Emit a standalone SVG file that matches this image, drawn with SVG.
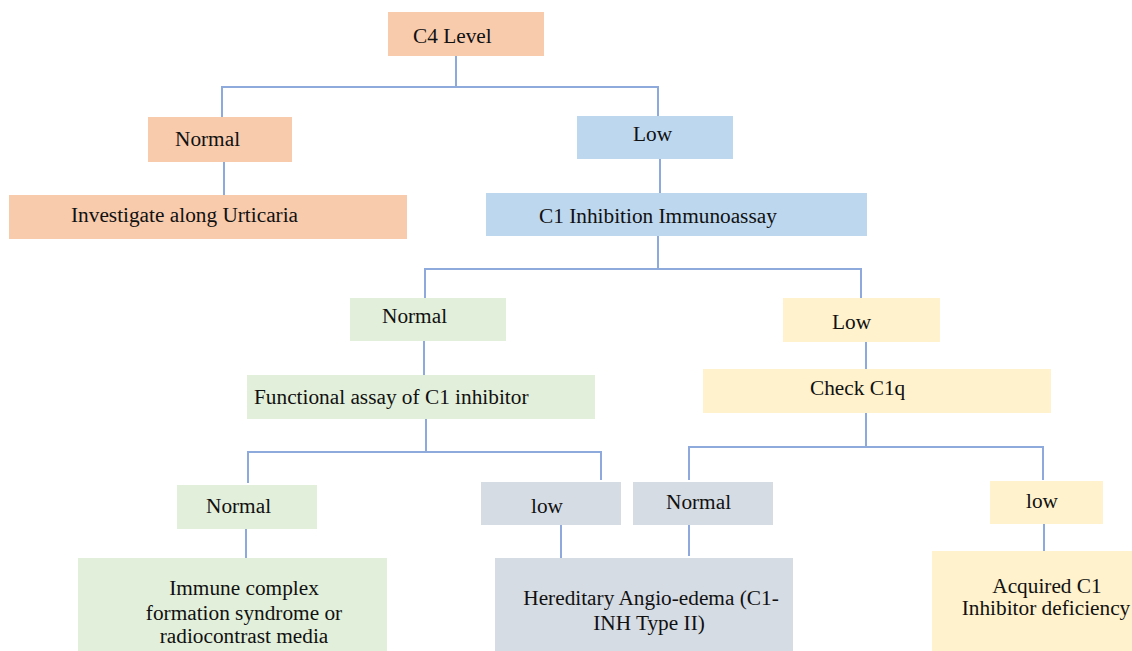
<svg xmlns="http://www.w3.org/2000/svg" width="1132" height="651" viewBox="0 0 1132 651">
<style>
.t{font-family:"Liberation Serif","Times New Roman",serif;font-size:21.3px;fill:#111}
.c{text-anchor:middle}
.o{fill:#F8CBAD}.b{fill:#BDD7EE}.g{fill:#E2EFDA}.y{fill:#FFF2CC}.s{fill:#D6DCE4}
.ln{fill:none;stroke:#8EA9DB;stroke-width:2}
</style>
<rect width="1132" height="651" fill="#fff"/>
<g id="connectors" class="ln">
<path d="M456 56V87M222 117V87H658V116"/>
<path d="M224 162V195"/>
<path d="M660 159V193"/>
<path d="M658 236V269M425 298V269H861V298"/>
<path d="M424 341V375"/>
<path d="M866 342V369"/>
<path d="M426 419V452M248 483V452H601V480"/>
<path d="M866 413V447M689 480V447H1043V480"/>
<path d="M246 529V558"/>
<path d="M561 525V558"/>
<path d="M689 525V556"/>
<path d="M1044 524V551"/>
</g>
<g id="c4"><rect class="o" x="388" y="12" width="156" height="44"/><text class="t" x="413" y="43">C4 Level</text></g>
<g id="normal1"><rect class="o" x="148" y="117" width="144" height="45"/><text class="t" x="175" y="146">Normal</text></g>
<g id="urticaria"><rect class="o" x="9" y="195" width="398" height="44"/><text class="t" x="71" y="222">Investigate along Urticaria</text></g>
<g id="low1"><rect class="b" x="577" y="116" width="156" height="43"/><text class="t" x="633" y="141">Low</text></g>
<g id="immunoassay"><rect class="b" x="486" y="193" width="381" height="43"/><text class="t" x="539" y="223">C1 Inhibition Immunoassay</text></g>
<g id="normal2"><rect class="g" x="350" y="298" width="156" height="43"/><text class="t" x="382" y="323">Normal</text></g>
<g id="functional"><rect class="g" x="247" y="375" width="348" height="44"/><text class="t" x="254" y="404">Functional assay of C1 inhibitor</text></g>
<g id="low2"><rect class="y" x="783" y="298" width="157" height="44"/><text class="t" x="832" y="329">Low</text></g>
<g id="c1q"><rect class="y" x="703" y="369" width="348" height="44"/><text class="t" x="810" y="395">Check C1q</text></g>
<g id="normal3"><rect class="g" x="177" y="485" width="140" height="44"/><text class="t" x="206" y="513">Normal</text></g>
<g id="immune"><rect class="g" x="78" y="558" width="309" height="93"/><text class="t c" x="244" y="595">Immune complex</text><text class="t c" x="244" y="620">formation syndrome or</text><text class="t c" x="244" y="643">radiocontrast media</text></g>
<g id="low3"><rect class="s" x="481" y="482" width="140" height="43"/><text class="t" x="531" y="513">low</text></g>
<g id="hae"><rect class="s" x="495" y="558" width="298" height="93"/><text class="t c" x="651" y="605">Hereditary Angio-edema (C1-</text><text class="t c" x="649" y="630">INH Type II)</text></g>
<g id="normal4"><rect class="s" x="633" y="482" width="140" height="43"/><text class="t" x="666" y="509">Normal</text></g>
<g id="low4"><rect class="y" x="990" y="481" width="113" height="43"/><text class="t" x="1026" y="508">low</text></g>
<g id="acquired"><rect class="y" x="932" y="551" width="200" height="100"/><text class="t c" x="1047" y="593">Acquired C1</text><text class="t c" x="1046" y="615">Inhibitor deficiency</text></g>
</svg>
